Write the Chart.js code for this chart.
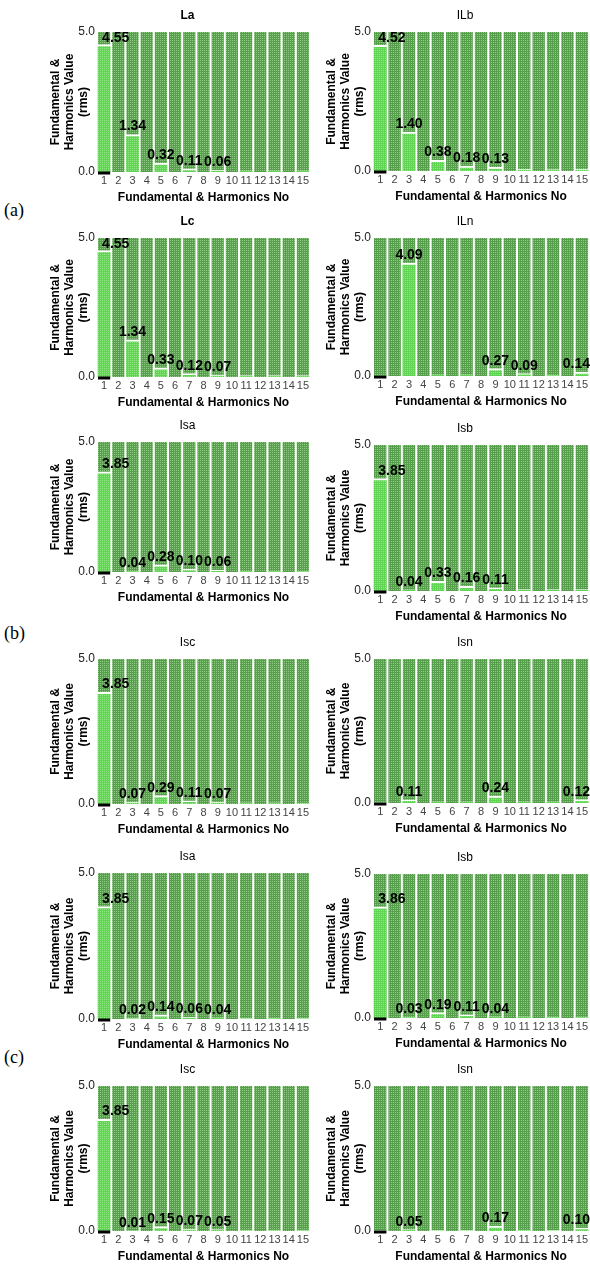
<!DOCTYPE html>
<html><head><meta charset="utf-8">
<script src="https://cdn.jsdelivr.net/npm/chart.js@4.4.1/dist/chart.umd.min.js"></script>
<style>
html,body{margin:0;padding:0;background:#fff;}
#fig{position:relative;width:590px;height:1268px;overflow:hidden;background:#fff;}
#fig canvas{position:absolute;}
.tag{position:absolute;left:4px;font-family:"Liberation Serif","Times New Roman",serif;font-size:18px;line-height:18px;color:#000;}
</style></head><body>
<div id="fig">
<div class="tag" style="top:201px">(a)</div>
<div class="tag" style="top:624px">(b)</div>
<div class="tag" style="top:1048px">(c)</div>
</div>
<script>
// ---------- data ----------
const harmonics = ['1','2','3','4','5','6','7','8','9','10','11','12','13','14','15'];
const yTicks = [0, 5];
const yMin = 0, yMax = 5;
const xTitle = 'Fundamental & Harmonics No';
const yTitle = ['Fundamental &', 'Harmonics Value', '(rms)'];
const titles = ['La','ILb','Lc','ILn','Isa','Isb','Isc','Isn','Isa','Isb','Isc','Isn'];

const La   = [4.55,0,1.34,0,0.32,0,0.11,0,0.06,0,0.04,0,0.04,0,0.04];
const ILb  = [4.52,0,1.40,0,0.38,0,0.18,0,0.13,0,0.06,0,0.05,0,0.07];
const Lc   = [4.55,0,1.34,0,0.33,0,0.12,0,0.07,0,0.05,0,0.05,0,0.05];
const ILn  = [0.03,0,4.09,0,0.04,0,0.04,0,0.27,0,0.09,0,0.03,0,0.14];
const IsaB = [3.85,0,0.04,0,0.28,0,0.10,0,0.06,0,0.04,0,0.04,0,0.03];
const IsbB = [3.85,0,0.04,0,0.33,0,0.16,0,0.11,0,0.05,0,0.05,0,0.05];
const IscB = [3.85,0,0.07,0,0.29,0,0.11,0,0.07,0,0.04,0,0.04,0,0.03];
const IsnB = [0.02,0,0.11,0,0.04,0,0.04,0,0.24,0,0.04,0,0.04,0,0.12];
const IsaC = [3.85,0,0.02,0,0.14,0,0.06,0,0.04,0,0.02,0,0.03,0,0.02];
const IsbC = [3.86,0,0.03,0,0.19,0,0.11,0,0.04,0,0.04,0,0.03,0,0.03];
const IscC = [3.85,0,0.01,0,0.15,0,0.07,0,0.05,0,0.03,0,0.03,0,0.03];
const IsnC = [0.02,0,0.05,0,0.02,0,0.02,0,0.17,0,0.03,0,0.02,0,0.10];

// harmonics whose value is printed
const shownPhase = [1,3,5,7,9];
const shownILn   = [3,9,11,15];
const shownIsn   = [3,9,15];

const series = [La, ILb, Lc, ILn, IsaB, IsbB, IscB, IsnB, IsaC, IsbC, IscC, IsnC];
const shown  = [shownPhase, shownPhase, shownPhase, shownILn, shownPhase, shownPhase,
                shownPhase, shownIsn, shownPhase, shownPhase, shownPhase, shownIsn];

// ---------- layout (positions only) ----------
const plotBox = [
  {col:0, top:32,   bottom:172,  bold:true},
  {col:1, top:32,   bottom:171,  bold:false},
  {col:0, top:238,  bottom:377,  bold:true},
  {col:1, top:238,  bottom:376,  bold:false},
  {col:0, top:442,  bottom:572,  bold:false},
  {col:1, top:445,  bottom:591,  bold:false},
  {col:0, top:659,  bottom:804,  bold:false},
  {col:1, top:659,  bottom:803,  bold:false},
  {col:0, top:873,  bottom:1019, bold:false},
  {col:1, top:874,  bottom:1018, bold:false},
  {col:0, top:1086, bottom:1231, bold:false},
  {col:1, top:1086, bottom:1231, bold:false}
];
const colGeom = [
  {canvasLeft:0,   canvasWidth:312, plotLeft:97,  plotRight:310},
  {canvasLeft:295, canvasWidth:295, plotLeft:373, plotRight:590}
];
const FONT = '"Liberation Sans", Arial, Helvetica, sans-serif';
const Y_AXIS_W = 48, X_AXIS_H = 34, PAD_TOP = 32, PAD_BOTTOM = 4;

function makePattern(base, dot) {
  const c = document.createElement('canvas');
  c.width = 2; c.height = 2;
  const g = c.getContext('2d');
  g.fillStyle = base; g.fillRect(0,0,2,2);
  g.fillStyle = dot; g.fillRect(0,0,1,1);
  return g.createPattern(c, 'repeat');
}
const columnFill = makePattern('#579f4d', '#8fca84');
const barFill = makePattern('#62d455', '#8fe882');

const decor = {
  id: 'decor',
  beforeDatasetsDraw(chart, args, opts) {
    const {ctx, chartArea: ca, scales: {x}} = chart;
    const half = (x.getPixelForValue(1) - x.getPixelForValue(0)) / 2;
    ctx.save();
    ctx.fillStyle = columnFill;
    for (let i = 0; i < chart.data.labels.length; i++) {
      const cx = x.getPixelForValue(i);
      ctx.fillRect(cx - half + 1, ca.top, 2 * half - 2, ca.bottom - ca.top);
    }
    ctx.restore();
  },
  afterDatasetsDraw(chart, args, opts) {
    const {ctx, chartArea: ca} = chart;
    const meta = chart.getDatasetMeta(0);
    const vals = chart.data.datasets[0].data;
    ctx.save();
    // black marker under the fundamental
    const e0 = meta.data[0];
    ctx.fillStyle = '#000';
    ctx.fillRect(e0.x - e0.width / 2 + 1, ca.bottom - 0.5, e0.width - 2, 3);
    // value labels
    ctx.font = 'bold 14px ' + FONT;
    ctx.fillStyle = '#000';
    ctx.textBaseline = 'alphabetic';
    opts.shown.forEach(h => {
      const i = h - 1;
      const el = meta.data[i];
      const yb = Math.max(el.y - 4, ca.top + 10);
      const txt = vals[i].toFixed(2);
      const w = ctx.measureText(txt).width;
      ctx.textAlign = 'left';
      let xl = (i === 0) ? el.x - 2 : el.x - w / 2;
      if (xl + w > chart.width) xl = chart.width - w;
      ctx.fillText(txt, xl, yb);
    });
    // chart title
    ctx.font = (opts.bold ? 'bold ' : '') + '12px ' + FONT;
    ctx.textAlign = 'center';
    ctx.textBaseline = 'middle';
    ctx.fillText(opts.title, (ca.left + ca.right) / 2 - 16, ca.top - 16);
    ctx.restore();
  }
};

const fig = document.getElementById('fig');
series.forEach((vals, k) => {
  const box = plotBox[k];
  const g = colGeom[box.col];
  const plotH = box.bottom - box.top;
  const cv = document.createElement('canvas');
  const cw = g.canvasWidth, ch = PAD_TOP + plotH + X_AXIS_H + PAD_BOTTOM;
  cv.width = cw; cv.height = ch;
  cv.style.left = g.canvasLeft + 'px';
  cv.style.top = (box.top - PAD_TOP) + 'px';
  cv.style.width = cw + 'px'; cv.style.height = ch + 'px';
  fig.appendChild(cv);
  const padL = g.plotLeft - g.canvasLeft - Y_AXIS_W;
  const padR = g.canvasLeft + g.canvasWidth - g.plotRight;
  new Chart(cv, {
    type: 'bar',
    data: {
      labels: harmonics,
      datasets: [{
        data: vals,
        backgroundColor: barFill,
        borderColor: '#ffffff',
        borderWidth: {top: 2, left: 1, right: 1, bottom: 0},
        borderSkipped: 'start',
        barPercentage: 1,
        categoryPercentage: 1
      }]
    },
    options: {
      responsive: false,
      animation: false,
      devicePixelRatio: 1,
      events: [],
      layout: {padding: {left: padL, right: padR, top: PAD_TOP, bottom: PAD_BOTTOM}},
      plugins: {
        legend: {display: false},
        tooltip: {enabled: false},
        title: {display: false},
        decor: {shown: shown[k], title: titles[k], bold: box.bold}
      },
      scales: {
        x: {
          offset: true,
          grid: {display: false, drawTicks: false},
          border: {display: false},
          ticks: {padding: 2, autoSkip: false, maxRotation: 0, color: '#444', font: {family: FONT, size: 11}},
          title: {display: true, text: xTitle, color: '#000', padding: {top: 0, bottom: 1},
                  font: {family: FONT, size: 12, weight: 'bold'}},
          afterFit: s => { s.height = X_AXIS_H; }
        },
        y: {
          min: yMin, max: yMax,
          grid: {display: false, drawTicks: false},
          border: {display: false},
          afterBuildTicks: s => { s.ticks = yTicks.map(v => ({value: v})); },
          ticks: {padding: 2, color: '#222', font: {family: FONT, size: 12},
                  callback: v => Number(v).toFixed(1)},
          title: {display: true, text: yTitle, color: '#000', padding: 0,
                  font: {family: FONT, size: 12, weight: 'bold', lineHeight: '14px'}},
          afterFit: s => { s.width = Y_AXIS_W; }
        }
      }
    },
    plugins: [decor]
  });
});
</script>
</body></html>
